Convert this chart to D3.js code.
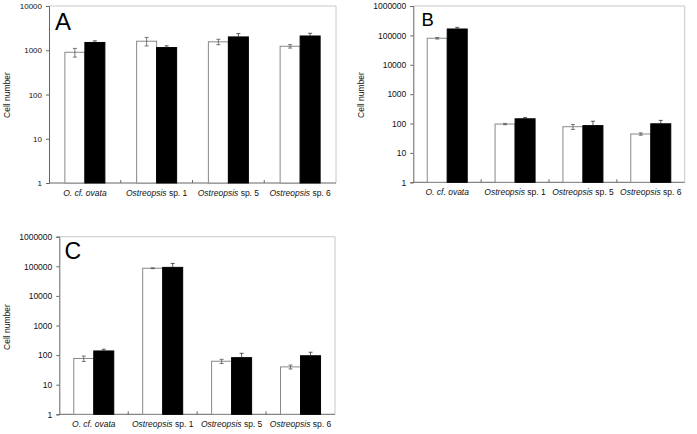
<!DOCTYPE html>
<html>
<head>
<meta charset="utf-8">
<script src="https://cdn.jsdelivr.net/npm/d3@7"></script>
<style>
html,body{margin:0;padding:0;background:#fff;}
svg{display:block;font-family:"Liberation Sans",Arial,sans-serif;}
</style>
</head>
<body>
<svg id="chart" width="697" height="434"></svg>
<script>
// ---- data ----
const categories = ["O. cf. ovata", "Ostreopsis sp. 1", "Ostreopsis sp. 5", "Ostreopsis sp. 6"];
const ticksA = [1, 10, 100, 1000, 10000];
const ticksBC = [1, 10, 100, 1000, 10000, 100000, 1000000];

const aWhite = [900, 1600, 1550, 1230];
const aWhiteErr = [200, 350, 220, 110];
const aBlack = [1500, 1150, 2000, 2100];
const aBlackErr = [130, 110, 380, 320];

const bWhite = [80000, 96, 78, 44];
const bWhiteErr = [5000, 5, 15, 4];
const bBlack = [165000, 145, 85, 98];
const bBlackErr = [22000, 15, 35, 30];

const cWhite = [77, 86000, 62, 40];
const cWhiteErr = [16, 3000, 10, 6];
const cBlack = [138, 92000, 82, 95];
const cBlackErr = [20, 33000, 33, 30];

// ---- layout ----
const panels = [
  {letter:"A", ls:24, lx:55, ly:29.5, left:49, right:336, top:6, bottom:183, ticks:ticksA, tf:8,
   white:aWhite, whiteErr:aWhiteErr, black:aBlack, blackErr:aBlackErr, yl:{x:8, y:95}},
  {letter:"B", ls:18.5, lx:421.5, ly:26.3, left:413.3, right:684.7, top:6, bottom:182.3, ticks:ticksBC, tf:8.5,
   white:bWhite, whiteErr:bWhiteErr, black:bBlack, blackErr:bBlackErr, yl:{x:362, y:95}},
  {letter:"C", ls:23, lx:64.5, ly:259.3, left:59.3, right:335, top:236.7, bottom:414.3, ticks:ticksBC, tf:8.5,
   white:cWhite, whiteErr:cWhiteErr, black:cBlack, blackErr:cBlackErr, yl:{x:8, y:327}}
];

const svg = d3.select("#chart");
const barW = 20;

panels.forEach(p => {
  const g = svg.append("g");
  const y = d3.scaleLog().domain([p.ticks[0], p.ticks[p.ticks.length-1]]).range([p.bottom, p.top]);
  const x = d3.scaleBand().domain(categories).range([p.left, p.right]).padding(0);

  // frame (light)
  g.append("path")
    .attr("d", `M${p.left},${p.top}H${p.right}V${p.bottom}`)
    .attr("fill","none").attr("stroke","#c8c8c8").attr("stroke-width",1);

  // y axis
  const yAxis = d3.axisLeft(y).tickValues(p.ticks).tickFormat(d3.format("d")).tickSize(3).tickPadding(4);
  const ya = g.append("g").attr("transform",`translate(${p.left},0)`).call(yAxis);
  ya.select(".domain").attr("stroke","#666");
  ya.selectAll(".tick line").attr("stroke","#666");
  ya.selectAll(".tick text").attr("font-size", p.tf).attr("fill","#111").attr("font-family","Liberation Sans, Arial, sans-serif");

  // x axis line and category boundary ticks
  g.append("line").attr("x1",p.left).attr("x2",p.right).attr("y1",p.bottom).attr("y2",p.bottom)
    .attr("stroke","#666");
  g.selectAll(".bt").data(categories.slice(1)).enter().append("line")
    .attr("x1", d => x(d)).attr("x2", d => x(d))
    .attr("y1", p.bottom).attr("y2", p.bottom-3).attr("stroke","#666");

  // bars
  const cx = d => x(d) + x.bandwidth()/2;
  // white bars
  g.selectAll(".wb").data(categories).enter().append("rect")
    .attr("x", d => cx(d) - barW)
    .attr("y", (d,i) => y(p.white[i]))
    .attr("width", barW)
    .attr("height", (d,i) => p.bottom - y(p.white[i]))
    .attr("fill","#fff").attr("stroke","#888").attr("stroke-width",1);
  // white error bars
  categories.forEach((d,i) => {
    const ex = cx(d) - barW/2;
    const hi = y(p.white[i] + p.whiteErr[i]);
    const lo = y(p.white[i] - p.whiteErr[i]);
    g.append("line").attr("x1",ex).attr("x2",ex).attr("y1",hi).attr("y2",lo).attr("stroke","#555").attr("stroke-width",0.8);
    g.append("line").attr("x1",ex-2).attr("x2",ex+2).attr("y1",hi).attr("y2",hi).attr("stroke","#555").attr("stroke-width",0.8);
    g.append("line").attr("x1",ex-2).attr("x2",ex+2).attr("y1",lo).attr("y2",lo).attr("stroke","#555").attr("stroke-width",0.8);
  });
  // black bars
  g.selectAll(".bb").data(categories).enter().append("rect")
    .attr("x", d => cx(d))
    .attr("y", (d,i) => y(p.black[i]))
    .attr("width", barW)
    .attr("height", (d,i) => p.bottom - y(p.black[i]))
    .attr("fill","#000").attr("stroke","#000").attr("stroke-width",1);
  categories.forEach((d,i) => {
    const ex = cx(d) + barW/2;
    const hi = y(p.black[i] + p.blackErr[i]);
    const top = y(p.black[i]);
    g.append("line").attr("x1",ex).attr("x2",ex).attr("y1",hi).attr("y2",top).attr("stroke","#333").attr("stroke-width",0.8);
    g.append("line").attr("x1",ex-2).attr("x2",ex+2).attr("y1",hi).attr("y2",hi).attr("stroke","#333").attr("stroke-width",0.8);
  });

  // category labels
  categories.forEach(d => {
    const t = g.append("text").attr("x", cx(d)).attr("y", p.bottom + 13)
      .attr("text-anchor","middle").attr("font-size",8.5).attr("fill","#111");
    if (d.startsWith("Ostreopsis")) {
      t.append("tspan").attr("font-style","italic").text("Ostreopsis");
      t.append("tspan").text(d.slice("Ostreopsis".length));
    } else {
      t.append("tspan").attr("font-style","italic").text(d);
    }
  });

  // y label
  g.append("text").attr("transform",`translate(${p.yl.x},${p.yl.y}) rotate(-90)`)
    .attr("text-anchor","middle").attr("dominant-baseline","middle")
    .attr("font-size",8.5).attr("fill","#111").text("Cell number");

  // panel letter
  g.append("text").attr("x",p.lx).attr("y",p.ly).attr("font-size",p.ls).attr("fill","#000").text(p.letter);
});
</script>
</body>
</html>
